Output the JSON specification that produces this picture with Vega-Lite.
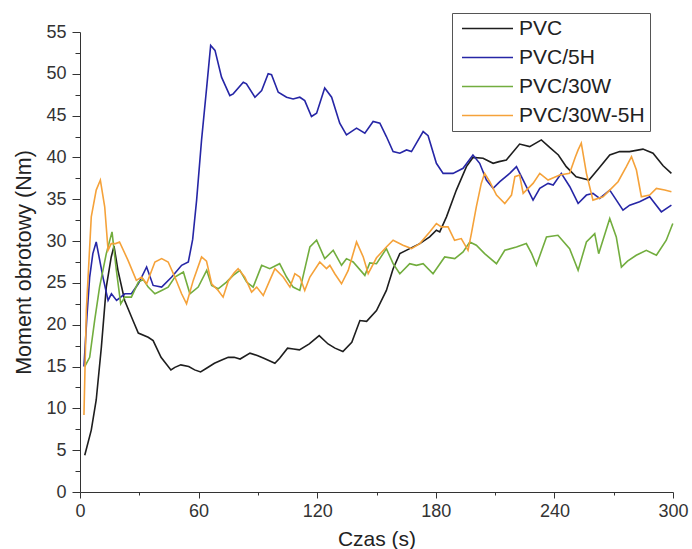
{
  "$schema": "https://vega.github.io/schema/vega-lite/v6.json",
  "width": 593,
  "height": 460,
  "autosize": {"type": "none"},
  "padding": {"left": 80, "top": 32, "right": 19, "bottom": 57},
  "background": "white",
  "config": {"view": {"stroke": null}, "font": "Liberation Sans"},
  "data": {"values": [
{"s":"PVC","t":2.4,"v":4.4},{"s":"PVC","t":5.7,"v":7.4},{"s":"PVC","t":8.2,"v":11.0},{"s":"PVC","t":10.8,"v":17.3},{"s":"PVC","t":13.3,"v":24.5},{"s":"PVC","t":15.8,"v":28.1},{"s":"PVC","t":17.2,"v":29.4},{"s":"PVC","t":19.2,"v":26.5},{"s":"PVC","t":22.6,"v":22.9},{"s":"PVC","t":26.8,"v":20.5},{"s":"PVC","t":29.5,"v":19.0},{"s":"PVC","t":34.5,"v":18.5},{"s":"PVC","t":37,"v":18.1},{"s":"PVC","t":41,"v":16.1},{"s":"PVC","t":46,"v":14.6},{"s":"PVC","t":48,"v":14.9},{"s":"PVC","t":51,"v":15.2},{"s":"PVC","t":55,"v":15.0},{"s":"PVC","t":58,"v":14.6},{"s":"PVC","t":61,"v":14.35},{"s":"PVC","t":64,"v":14.8},{"s":"PVC","t":68,"v":15.4},{"s":"PVC","t":72,"v":15.8},{"s":"PVC","t":75,"v":16.1},{"s":"PVC","t":78,"v":16.1},{"s":"PVC","t":81,"v":15.9},{"s":"PVC","t":86,"v":16.6},{"s":"PVC","t":90,"v":16.3},{"s":"PVC","t":93,"v":16.0},{"s":"PVC","t":98.6,"v":15.4},{"s":"PVC","t":101,"v":16.0},{"s":"PVC","t":105,"v":17.2},{"s":"PVC","t":108,"v":17.1},{"s":"PVC","t":111,"v":17.0},{"s":"PVC","t":116,"v":17.7},{"s":"PVC","t":121,"v":18.7},{"s":"PVC","t":125.5,"v":17.7},{"s":"PVC","t":129,"v":17.2},{"s":"PVC","t":133,"v":16.8},{"s":"PVC","t":137.5,"v":17.9},{"s":"PVC","t":141.6,"v":20.5},{"s":"PVC","t":145,"v":20.4},{"s":"PVC","t":150,"v":21.7},{"s":"PVC","t":155,"v":24.1},{"s":"PVC","t":158.4,"v":26.7},{"s":"PVC","t":161.8,"v":28.5},{"s":"PVC","t":166.8,"v":29.1},{"s":"PVC","t":171.9,"v":29.7},{"s":"PVC","t":176.9,"v":30.5},{"s":"PVC","t":180.3,"v":31.3},{"s":"PVC","t":182,"v":31.1},{"s":"PVC","t":185.4,"v":32.9},{"s":"PVC","t":190.4,"v":36.1},{"s":"PVC","t":195.5,"v":38.9},{"s":"PVC","t":198.8,"v":40.0},{"s":"PVC","t":203.9,"v":39.9},{"s":"PVC","t":209,"v":39.3},{"s":"PVC","t":212,"v":39.5},{"s":"PVC","t":215.7,"v":39.7},{"s":"PVC","t":222.4,"v":41.6},{"s":"PVC","t":227.5,"v":41.3},{"s":"PVC","t":233.4,"v":42.1},{"s":"PVC","t":237.6,"v":41.2},{"s":"PVC","t":242,"v":40.3},{"s":"PVC","t":246,"v":38.9},{"s":"PVC","t":251,"v":37.7},{"s":"PVC","t":257.5,"v":37.3},{"s":"PVC","t":262.5,"v":38.7},{"s":"PVC","t":268,"v":40.3},{"s":"PVC","t":273,"v":40.7},{"s":"PVC","t":278,"v":40.7},{"s":"PVC","t":284.8,"v":41.0},{"s":"PVC","t":289.9,"v":40.5},{"s":"PVC","t":295,"v":39.0},{"s":"PVC","t":299.2,"v":38.1},
{"s":"PVC/5H","t":2,"v":15},{"s":"PVC/5H","t":3.5,"v":21},{"s":"PVC/5H","t":4.9,"v":25.7},{"s":"PVC/5H","t":6.5,"v":28.5},{"s":"PVC/5H","t":8.2,"v":29.9},{"s":"PVC/5H","t":11.6,"v":25.7},{"s":"PVC/5H","t":14.2,"v":22.9},{"s":"PVC/5H","t":15.9,"v":23.7},{"s":"PVC/5H","t":18.5,"v":22.9},{"s":"PVC/5H","t":22.7,"v":23.7},{"s":"PVC/5H","t":26,"v":23.7},{"s":"PVC/5H","t":29.5,"v":24.9},{"s":"PVC/5H","t":33.7,"v":26.9},{"s":"PVC/5H","t":37,"v":24.7},{"s":"PVC/5H","t":41.3,"v":24.5},{"s":"PVC/5H","t":46.4,"v":25.7},{"s":"PVC/5H","t":51.4,"v":27.1},{"s":"PVC/5H","t":54.8,"v":27.5},{"s":"PVC/5H","t":57,"v":30.2},{"s":"PVC/5H","t":59,"v":34.9},{"s":"PVC/5H","t":61.5,"v":42.1},{"s":"PVC/5H","t":64.1,"v":48.4},{"s":"PVC/5H","t":66.1,"v":53.4},{"s":"PVC/5H","t":68.3,"v":52.8},{"s":"PVC/5H","t":71.6,"v":49.6},{"s":"PVC/5H","t":75.8,"v":47.4},{"s":"PVC/5H","t":77.5,"v":47.6},{"s":"PVC/5H","t":82.6,"v":49.0},{"s":"PVC/5H","t":84.2,"v":48.8},{"s":"PVC/5H","t":88.5,"v":47.2},{"s":"PVC/5H","t":91.9,"v":48.0},{"s":"PVC/5H","t":95.2,"v":50.0},{"s":"PVC/5H","t":96.9,"v":49.9},{"s":"PVC/5H","t":100.3,"v":47.8},{"s":"PVC/5H","t":104.5,"v":47.2},{"s":"PVC/5H","t":107.8,"v":47.0},{"s":"PVC/5H","t":111.2,"v":47.2},{"s":"PVC/5H","t":113.7,"v":46.8},{"s":"PVC/5H","t":117.1,"v":44.9},{"s":"PVC/5H","t":119.7,"v":45.3},{"s":"PVC/5H","t":123.8,"v":48.3},{"s":"PVC/5H","t":127.3,"v":47.2},{"s":"PVC/5H","t":131.4,"v":44.1},{"s":"PVC/5H","t":134.8,"v":42.7},{"s":"PVC/5H","t":139.9,"v":43.5},{"s":"PVC/5H","t":144.1,"v":42.9},{"s":"PVC/5H","t":148.3,"v":44.3},{"s":"PVC/5H","t":151.7,"v":44.1},{"s":"PVC/5H","t":155,"v":42.5},{"s":"PVC/5H","t":158.4,"v":40.7},{"s":"PVC/5H","t":161.8,"v":40.5},{"s":"PVC/5H","t":165.2,"v":40.9},{"s":"PVC/5H","t":167.7,"v":40.7},{"s":"PVC/5H","t":173.6,"v":43.1},{"s":"PVC/5H","t":176.1,"v":42.6},{"s":"PVC/5H","t":180.3,"v":39.3},{"s":"PVC/5H","t":183.7,"v":38.1},{"s":"PVC/5H","t":188.7,"v":38.1},{"s":"PVC/5H","t":193.8,"v":38.7},{"s":"PVC/5H","t":198.8,"v":40.3},{"s":"PVC/5H","t":202.2,"v":39.3},{"s":"PVC/5H","t":205.6,"v":37.3},{"s":"PVC/5H","t":209,"v":36.3},{"s":"PVC/5H","t":212.4,"v":37.1},{"s":"PVC/5H","t":217.4,"v":38.1},{"s":"PVC/5H","t":220.8,"v":38.9},{"s":"PVC/5H","t":224.2,"v":37.3},{"s":"PVC/5H","t":229.2,"v":34.9},{"s":"PVC/5H","t":232.6,"v":36.3},{"s":"PVC/5H","t":236.8,"v":36.9},{"s":"PVC/5H","t":239.4,"v":36.7},{"s":"PVC/5H","t":243.5,"v":38.1},{"s":"PVC/5H","t":247.8,"v":36.5},{"s":"PVC/5H","t":252,"v":34.5},{"s":"PVC/5H","t":256.2,"v":35.5},{"s":"PVC/5H","t":259.5,"v":35.7},{"s":"PVC/5H","t":262.9,"v":35.1},{"s":"PVC/5H","t":268,"v":36.1},{"s":"PVC/5H","t":274.7,"v":33.7},{"s":"PVC/5H","t":278.1,"v":34.3},{"s":"PVC/5H","t":283.1,"v":34.7},{"s":"PVC/5H","t":288.2,"v":35.3},{"s":"PVC/5H","t":294.1,"v":33.5},{"s":"PVC/5H","t":299.2,"v":34.3},
{"s":"PVC/30W","t":2.4,"v":15.0},{"s":"PVC/30W","t":4.9,"v":16.1},{"s":"PVC/30W","t":7.4,"v":20.5},{"s":"PVC/30W","t":9.9,"v":24.5},{"s":"PVC/30W","t":13.3,"v":28.5},{"s":"PVC/30W","t":16.2,"v":31.1},{"s":"PVC/30W","t":18.4,"v":26.5},{"s":"PVC/30W","t":20.6,"v":22.5},{"s":"PVC/30W","t":22.7,"v":23.3},{"s":"PVC/30W","t":26,"v":23.3},{"s":"PVC/30W","t":29.5,"v":25.1},{"s":"PVC/30W","t":32,"v":25.4},{"s":"PVC/30W","t":34.5,"v":24.5},{"s":"PVC/30W","t":37.9,"v":23.7},{"s":"PVC/30W","t":41.3,"v":24.1},{"s":"PVC/30W","t":44.6,"v":24.5},{"s":"PVC/30W","t":48,"v":25.7},{"s":"PVC/30W","t":52.3,"v":26.3},{"s":"PVC/30W","t":55.6,"v":23.7},{"s":"PVC/30W","t":59.8,"v":24.5},{"s":"PVC/30W","t":64.1,"v":26.5},{"s":"PVC/30W","t":66.6,"v":24.7},{"s":"PVC/30W","t":69.9,"v":24.3},{"s":"PVC/30W","t":74.1,"v":25.1},{"s":"PVC/30W","t":77.5,"v":25.9},{"s":"PVC/30W","t":80.9,"v":26.5},{"s":"PVC/30W","t":84.3,"v":25.1},{"s":"PVC/30W","t":87.6,"v":24.5},{"s":"PVC/30W","t":91.9,"v":27.1},{"s":"PVC/30W","t":96,"v":26.7},{"s":"PVC/30W","t":101,"v":27.3},{"s":"PVC/30W","t":104.5,"v":25.7},{"s":"PVC/30W","t":107.8,"v":24.5},{"s":"PVC/30W","t":111.2,"v":24.1},{"s":"PVC/30W","t":116.3,"v":29.3},{"s":"PVC/30W","t":119.7,"v":30.1},{"s":"PVC/30W","t":123.8,"v":27.9},{"s":"PVC/30W","t":128.1,"v":28.9},{"s":"PVC/30W","t":132.3,"v":27.1},{"s":"PVC/30W","t":134.8,"v":27.9},{"s":"PVC/30W","t":138.2,"v":27.5},{"s":"PVC/30W","t":144.1,"v":25.9},{"s":"PVC/30W","t":146.6,"v":27.4},{"s":"PVC/30W","t":150,"v":27.3},{"s":"PVC/30W","t":155,"v":29.1},{"s":"PVC/30W","t":158.4,"v":27.3},{"s":"PVC/30W","t":161.8,"v":26.1},{"s":"PVC/30W","t":166.8,"v":27.3},{"s":"PVC/30W","t":170.2,"v":27.1},{"s":"PVC/30W","t":173.6,"v":27.3},{"s":"PVC/30W","t":178.6,"v":26.1},{"s":"PVC/30W","t":184.5,"v":28.1},{"s":"PVC/30W","t":189.6,"v":27.9},{"s":"PVC/30W","t":193.8,"v":28.7},{"s":"PVC/30W","t":197.2,"v":29.9},{"s":"PVC/30W","t":200.5,"v":29.5},{"s":"PVC/30W","t":204.7,"v":28.5},{"s":"PVC/30W","t":210.7,"v":27.3},{"s":"PVC/30W","t":214.9,"v":28.9},{"s":"PVC/30W","t":220.8,"v":29.3},{"s":"PVC/30W","t":225.8,"v":29.7},{"s":"PVC/30W","t":228.5,"v":28.5},{"s":"PVC/30W","t":230.9,"v":27.1},{"s":"PVC/30W","t":236,"v":30.5},{"s":"PVC/30W","t":241.8,"v":30.7},{"s":"PVC/30W","t":247.7,"v":29.1},{"s":"PVC/30W","t":252,"v":26.5},{"s":"PVC/30W","t":256.2,"v":29.9},{"s":"PVC/30W","t":260.4,"v":30.9},{"s":"PVC/30W","t":262.4,"v":28.5},{"s":"PVC/30W","t":268,"v":32.7},{"s":"PVC/30W","t":271.3,"v":30.5},{"s":"PVC/30W","t":273.9,"v":26.9},{"s":"PVC/30W","t":277,"v":27.6},{"s":"PVC/30W","t":281.4,"v":28.3},{"s":"PVC/30W","t":286.5,"v":28.9},{"s":"PVC/30W","t":291.6,"v":28.3},{"s":"PVC/30W","t":296.6,"v":30.1},{"s":"PVC/30W","t":299.9,"v":32.1},
{"s":"PVC/30W-5H","t":2,"v":9.2},{"s":"PVC/30W-5H","t":3.2,"v":21.7},{"s":"PVC/30W-5H","t":5.7,"v":32.9},{"s":"PVC/30W-5H","t":8.2,"v":36.1},{"s":"PVC/30W-5H","t":10.3,"v":37.3},{"s":"PVC/30W-5H","t":12.5,"v":34.1},{"s":"PVC/30W-5H","t":14.2,"v":28.9},{"s":"PVC/30W-5H","t":15.8,"v":29.7},{"s":"PVC/30W-5H","t":18,"v":29.7},{"s":"PVC/30W-5H","t":20,"v":29.9},{"s":"PVC/30W-5H","t":24.3,"v":27.7},{"s":"PVC/30W-5H","t":28.5,"v":25.3},{"s":"PVC/30W-5H","t":31.2,"v":25.7},{"s":"PVC/30W-5H","t":33.7,"v":24.9},{"s":"PVC/30W-5H","t":37.9,"v":27.5},{"s":"PVC/30W-5H","t":41.3,"v":27.9},{"s":"PVC/30W-5H","t":44.6,"v":27.5},{"s":"PVC/30W-5H","t":48,"v":25.7},{"s":"PVC/30W-5H","t":51.4,"v":23.7},{"s":"PVC/30W-5H","t":53.9,"v":22.5},{"s":"PVC/30W-5H","t":57.3,"v":25.3},{"s":"PVC/30W-5H","t":61.5,"v":28.1},{"s":"PVC/30W-5H","t":64,"v":27.6},{"s":"PVC/30W-5H","t":66.6,"v":24.9},{"s":"PVC/30W-5H","t":69.9,"v":24.1},{"s":"PVC/30W-5H","t":72.4,"v":23.3},{"s":"PVC/30W-5H","t":75,"v":25.2},{"s":"PVC/30W-5H","t":78,"v":26.2},{"s":"PVC/30W-5H","t":80,"v":26.7},{"s":"PVC/30W-5H","t":83.4,"v":25.7},{"s":"PVC/30W-5H","t":86.8,"v":23.9},{"s":"PVC/30W-5H","t":89.4,"v":24.5},{"s":"PVC/30W-5H","t":92.7,"v":23.5},{"s":"PVC/30W-5H","t":96,"v":25.3},{"s":"PVC/30W-5H","t":98.6,"v":26.7},{"s":"PVC/30W-5H","t":102.8,"v":25.7},{"s":"PVC/30W-5H","t":106.2,"v":24.5},{"s":"PVC/30W-5H","t":108.7,"v":26.1},{"s":"PVC/30W-5H","t":111.2,"v":25.7},{"s":"PVC/30W-5H","t":113.7,"v":24.1},{"s":"PVC/30W-5H","t":116.3,"v":25.7},{"s":"PVC/30W-5H","t":121.3,"v":27.5},{"s":"PVC/30W-5H","t":124.7,"v":26.7},{"s":"PVC/30W-5H","t":126.4,"v":27.1},{"s":"PVC/30W-5H","t":128.9,"v":26.1},{"s":"PVC/30W-5H","t":132.3,"v":24.9},{"s":"PVC/30W-5H","t":135.7,"v":26.5},{"s":"PVC/30W-5H","t":139.9,"v":29.9},{"s":"PVC/30W-5H","t":143.3,"v":28.1},{"s":"PVC/30W-5H","t":145.8,"v":26.1},{"s":"PVC/30W-5H","t":150,"v":28.0},{"s":"PVC/30W-5H","t":155,"v":29.3},{"s":"PVC/30W-5H","t":158.4,"v":30.1},{"s":"PVC/30W-5H","t":163.4,"v":29.5},{"s":"PVC/30W-5H","t":167.7,"v":29.1},{"s":"PVC/30W-5H","t":171.9,"v":29.7},{"s":"PVC/30W-5H","t":176.9,"v":31.1},{"s":"PVC/30W-5H","t":180.3,"v":32.1},{"s":"PVC/30W-5H","t":182.8,"v":31.7},{"s":"PVC/30W-5H","t":186.2,"v":31.7},{"s":"PVC/30W-5H","t":189.5,"v":30.1},{"s":"PVC/30W-5H","t":192.9,"v":30.3},{"s":"PVC/30W-5H","t":196.3,"v":28.9},{"s":"PVC/30W-5H","t":198,"v":30.9},{"s":"PVC/30W-5H","t":200.5,"v":34.1},{"s":"PVC/30W-5H","t":203,"v":36.9},{"s":"PVC/30W-5H","t":204.7,"v":38.1},{"s":"PVC/30W-5H","t":207.3,"v":37.1},{"s":"PVC/30W-5H","t":210.7,"v":35.5},{"s":"PVC/30W-5H","t":214.9,"v":34.5},{"s":"PVC/30W-5H","t":218.3,"v":35.5},{"s":"PVC/30W-5H","t":220,"v":37.7},{"s":"PVC/30W-5H","t":222.4,"v":37.9},{"s":"PVC/30W-5H","t":224.2,"v":35.7},{"s":"PVC/30W-5H","t":229.2,"v":36.9},{"s":"PVC/30W-5H","t":232.6,"v":38.1},{"s":"PVC/30W-5H","t":236.8,"v":37.3},{"s":"PVC/30W-5H","t":242.7,"v":37.9},{"s":"PVC/30W-5H","t":247.7,"v":38.1},{"s":"PVC/30W-5H","t":250.5,"v":40.0},{"s":"PVC/30W-5H","t":252,"v":40.9},{"s":"PVC/30W-5H","t":253.6,"v":41.7},{"s":"PVC/30W-5H","t":256.2,"v":38.1},{"s":"PVC/30W-5H","t":259.5,"v":34.9},{"s":"PVC/30W-5H","t":264.6,"v":35.3},{"s":"PVC/30W-5H","t":268,"v":36.1},{"s":"PVC/30W-5H","t":272.2,"v":37.1},{"s":"PVC/30W-5H","t":276.4,"v":38.9},{"s":"PVC/30W-5H","t":279,"v":40.1},{"s":"PVC/30W-5H","t":281.5,"v":38.5},{"s":"PVC/30W-5H","t":284,"v":35.3},{"s":"PVC/30W-5H","t":288.2,"v":35.5},{"s":"PVC/30W-5H","t":291.6,"v":36.3},{"s":"PVC/30W-5H","t":295.8,"v":36.1},{"s":"PVC/30W-5H","t":299.2,"v":35.9}
  ]},
  "mark": {"type": "line", "strokeWidth": 1.6},
  "encoding": {
    "x": {"field": "t", "type": "quantitative", "scale": {"domain": [0, 300], "nice": false, "zero": false},
      "axis": {"title": "Czas (s)", "values": [0,30,60,90,120,150,180,210,240,270,300], "labelExpr": "datum.value % 60 === 0 ? datum.label : ''", "grid": false, "domainColor": "#333", "tickColor": "#333", "tickSize": {"condition": {"test": "datum.value % 60 === 0", "value": 6}, "value": 3}, "labelFontSize": 18, "labelColor": "#333", "labelPadding": 4, "titleFontSize": 21, "titleFontWeight": "normal", "titleColor": "#222", "titlePadding": 8, "labelFlush": false}},
    "y": {"field": "v", "type": "quantitative", "scale": {"domain": [0, 55], "nice": false},
      "axis": {"title": "Moment obrotowy (Nm)", "values": [0,2.5,5,7.5,10,12.5,15,17.5,20,22.5,25,27.5,30,32.5,35,37.5,40,42.5,45,47.5,50,52.5,55], "labelExpr": "datum.value % 5 === 0 ? datum.label : ''", "grid": false, "domainColor": "#333", "tickColor": "#333", "tickSize": {"condition": {"test": "datum.value % 5 === 0", "value": 8}, "value": 5}, "labelFontSize": 18, "labelColor": "#333", "labelPadding": 6, "titleFontSize": 21.5, "titleFontWeight": "normal", "titleColor": "#222", "titlePadding": 10, "labelFlush": false}},
    "color": {"field": "s", "type": "nominal",
      "scale": {"domain": ["PVC", "PVC/5H", "PVC/30W", "PVC/30W-5H"], "range": ["#1e1e1e", "#2626a6", "#72ad3e", "#f5a23a"]},
      "legend": {"title": null, "orient": "none", "legendX": 372, "legendY": -19, "symbolType": "M-3,0H3", "symbolSize": 289, "symbolStrokeWidth": 1.6, "symbolOffset": 20, "labelOffset": 21, "labelFontSize": 21, "labelColor": "#222", "padding": 5, "rowPadding": 7, "strokeColor": "#555", "fillColor": "white"}}
  }
}
